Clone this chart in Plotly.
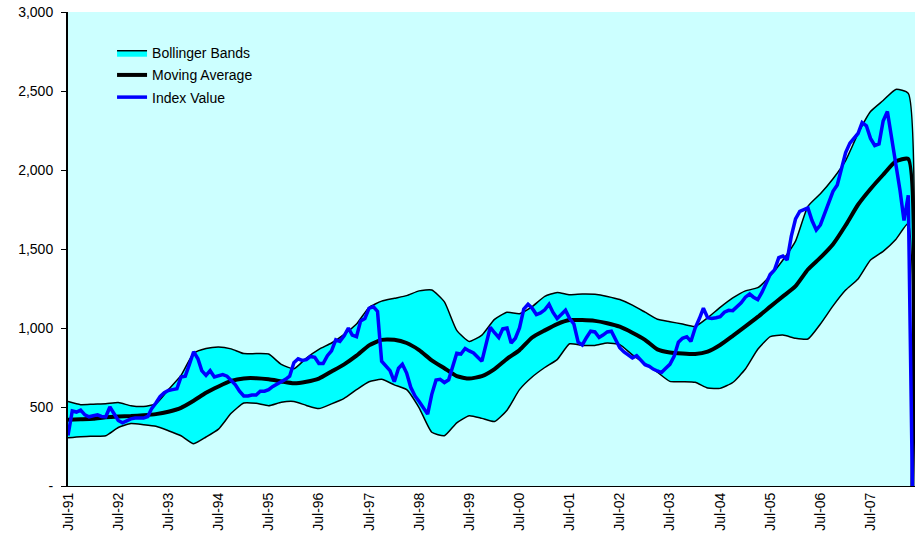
import pandas as pd
import plotly.graph_objects as go

# ---------------- data ----------------
start_month = "1991-07-01"
end_month = "2008-05-01"          # last (empty) month: all series fall to zero

# monthly index values, Jul-91 .. Apr-08, followed by the empty month
index_value = [
    320, 475, 468, 480, 450, 438, 445, 450, 440, 438, 500, 455,
    415, 400, 415, 425, 430, 432, 430, 440, 490, 525, 565, 590,
    605, 610, 615, 690, 695, 770, 850, 805, 730, 700, 730, 690,
    700, 705, 695, 670, 640, 600, 570, 570, 576, 576, 600, 600,
    610, 630, 645, 655, 675, 695, 780, 805, 795, 800, 820, 815,
    775, 775, 825, 855, 925, 915, 950, 1000, 955, 945, 1045, 1060,
    1125, 1135, 1105, 790, 762, 730, 660, 745, 770, 715, 625, 570,
    535, 495, 455, 580, 670, 675, 655, 672, 750, 840, 835, 870,
    855, 842, 815, 790, 900, 1005, 970, 940, 995, 1000, 905, 935,
    1000, 1120, 1150, 1125, 1085, 1095, 1115, 1150, 1100, 1060, 1085, 1112,
    1060, 1025, 910, 893, 940, 980, 975, 940, 955, 975, 980, 920,
    875, 848, 825, 810, 825, 800, 768, 757, 740, 728, 718, 745,
    770, 820, 910, 935, 945, 915, 1000, 1060, 1125, 1065, 1060, 1065,
    1072, 1100, 1112, 1110, 1135, 1160, 1195, 1215, 1195, 1180, 1225, 1280,
    1340, 1368, 1445, 1455, 1430, 1580, 1690, 1738, 1750, 1760, 1680, 1620,
    1652, 1720, 1790, 1865, 1905, 2000, 2110, 2170, 2200, 2231, 2300, 2280,
    2200, 2155, 2165, 2310, 2370, 2200, 2060, 1870, 1680, 1840,
    0,
]

# quarterly samples (Jul-91, Oct-91, ... Apr-08), followed by the empty month
upper_band = [
    535, 515, 518, 520, 528, 508, 503, 520, 610, 700, 840, 870,
    880, 868, 838, 838, 835, 770, 742, 810, 865, 905, 960, 1025,
    1130, 1170, 1188, 1205, 1235, 1240, 1165, 985, 915, 955, 1055, 1100,
    1090, 1135, 1200, 1225, 1210, 1215, 1213, 1200, 1180, 1145, 1100, 1055,
    1040, 1025, 1010, 1065, 1130, 1190, 1235, 1255, 1330, 1430, 1550, 1770,
    1850, 1945, 2060, 2230, 2370, 2440, 2510, 2485,
    0,
]
moving_avg = [
    420, 422, 425, 435, 440, 443, 448, 455, 470, 495, 540, 590,
    630, 665, 681, 682, 675, 662, 650, 660, 680, 725, 770, 825,
    890, 925, 925, 905, 860, 795, 745, 695, 680, 695, 740, 805,
    860, 940, 985, 1025, 1050, 1050, 1045, 1030, 1008, 970, 925, 865,
    845, 838, 835, 850, 892, 950, 1010, 1070, 1135, 1200, 1265, 1370,
    1445, 1530, 1650, 1780, 1880, 1970, 2055, 2070,
    0,
]
lower_band = [
    305, 312, 315, 318, 370, 395, 388, 378, 350, 318, 268, 310,
    360, 460, 525, 523, 508, 530, 535, 510, 490, 520, 555, 610,
    660, 675, 640, 610, 495, 340, 318, 400, 445, 428, 408, 480,
    610, 690, 750, 800, 900, 890, 890, 905, 895, 830, 775, 720,
    662, 660, 656, 620, 618, 655, 740, 865, 945, 955, 935, 930,
    1025, 1140, 1240, 1310, 1430, 1485, 1560, 1663,
    0,
]

y_ticks = [0, 500, 1000, 1500, 2000, 2500, 3000]
y_tick_labels = ["-", "500", "1,000", "1,500", "2,000", "2,500", "3,000"]

# ---------------- x positions ----------------
idx_dates = list(pd.date_range(start_month, periods=len(index_value) - 1, freq="MS")) + [pd.Timestamp(end_month)]
band_dates = list(pd.date_range(start_month, periods=len(upper_band) - 1, freq="3MS")) + [pd.Timestamp(end_month)]

FONT = "Arial, Liberation Sans, sans-serif"
BG = "#CCFFFF"

fig = go.Figure()
fig.add_trace(go.Scatter(
    x=band_dates, y=upper_band, name="Bollinger Bands", mode="lines",
    legendgroup="g1",
    line=dict(color="black", width=1.5, shape="spline", smoothing=0.5),
    fill="tozeroy", fillcolor="#00FFFF", hoverinfo="skip",
))
fig.add_trace(go.Scatter(
    x=band_dates, y=lower_band, name="Lower Band", mode="lines", showlegend=False,
    legendgroup="g1",
    line=dict(color="black", width=1.5, shape="spline", smoothing=0.5),
    fill="tozeroy", fillcolor=BG, hoverinfo="skip",
))
fig.add_trace(go.Scatter(
    x=band_dates, y=moving_avg, name="Moving Average", mode="lines",
    legendgroup="g2",
    line=dict(color="black", width=4, shape="spline", smoothing=0.5),
))
fig.add_trace(go.Scatter(
    x=idx_dates, y=index_value, name="Index Value", mode="lines",
    legendgroup="g3",
    line=dict(color="#0000FF", width=3.5),
))

fig.update_layout(
    width=923, height=538,
    margin=dict(l=68, r=8, t=12, b=52, autoexpand=False),
    paper_bgcolor="white", plot_bgcolor=BG,
    font=dict(family=FONT, size=14, color="black"),
    showlegend=True,
    legend=dict(
        x=0.052, y=0.947, xanchor="left", yanchor="top",
        bgcolor="rgba(0,0,0,0)", borderwidth=0,
        font=dict(family=FONT, size=14, color="black"),
        traceorder="grouped", tracegroupgap=1, itemwidth=30,
    ),
)
fig.update_xaxes(
    type="date", range=["1991-07-01", "2008-05-20"],
    tick0="1991-07-01", dtick="M12", tickformat="%b-%y",
    tickangle=-90, ticks="", showgrid=False, zeroline=False,
    showline=True, linecolor="black", linewidth=1, automargin=False,
    tickfont=dict(family=FONT, size=14, color="black"),
)
fig.update_yaxes(
    range=[0, 3000], tickvals=y_ticks, ticktext=y_tick_labels,
    ticks="outside", ticklen=5, tickcolor="black",
    showgrid=False, zeroline=False, automargin=False,
    showline=True, linecolor="black", linewidth=2,
    ticklabelstandoff=5, ticklabeloverflow="allow",
    tickfont=dict(family=FONT, size=14, color="black"),
)

# place the figure at the window's top-left corner (no default page margin)
fig.write_html(
    "out.html",
    config={"displayModeBar": False},
    post_script="document.body.style.margin='0';",
)
